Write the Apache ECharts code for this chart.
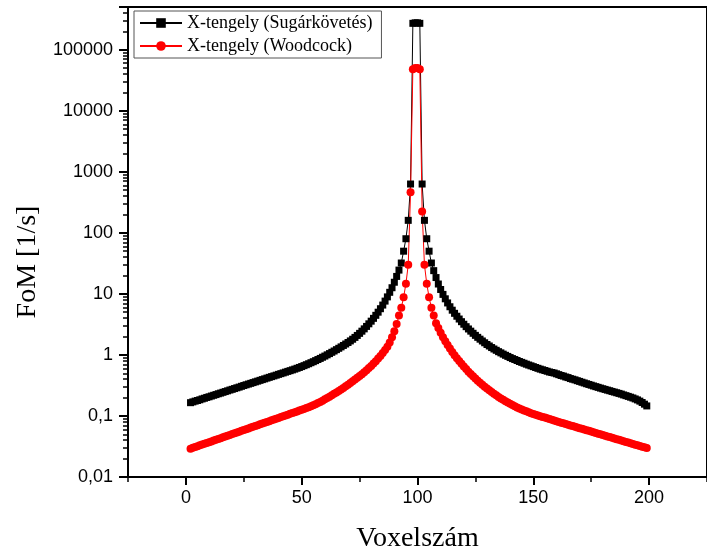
<!DOCTYPE html>
<html><head><meta charset="utf-8">
<script src="https://cdn.jsdelivr.net/npm/echarts@6/dist/echarts.min.js"></script>
<style>html,body{margin:0;padding:0;background:#fff}#c{width:707px;height:558px}</style>
</head><body><div id="c"></div>
<script>
const voxel = [2,3,4,5,6,7,8,9,10,11,12,13,14,15,16,17,18,19,20,21,22,23,24,25,26,27,28,29,30,31,32,33,34,35,36,37,38,39,40,41,42,43,44,45,46,47,48,49,50,51,52,53,54,55,56,57,58,59,60,61,62,63,64,65,66,67,68,69,70,71,72,73,74,75,76,77,78,79,80,81,82,83,84,85,86,87,88,89,90,91,92,93,94,95,96,97,98,99,100,101,102,103,104,105,106,107,108,109,110,111,112,113,114,115,116,117,118,119,120,121,122,123,124,125,126,127,128,129,130,131,132,133,134,135,136,137,138,139,140,141,142,143,144,145,146,147,148,149,150,151,152,153,154,155,156,157,158,159,160,161,162,163,164,165,166,167,168,169,170,171,172,173,174,175,176,177,178,179,180,181,182,183,184,185,186,187,188,189,190,191,192,193,194,195,196,197,198,199];

const sugarkovetes = [
0.165,0.170,0.175,0.179,0.184,0.190,0.195,0.201,0.206,0.212,
0.218,0.224,0.231,0.237,0.244,0.251,0.258,0.266,0.273,0.281,
0.289,0.297,0.306,0.315,0.324,0.333,0.342,0.352,0.362,0.372,
0.383,0.394,0.405,0.417,0.429,0.441,0.453,0.466,0.480,0.493,
0.507,0.522,0.537,0.552,0.568,0.585,0.604,0.623,0.644,0.667,
0.691,0.717,0.745,0.774,0.806,0.840,0.876,0.916,0.957,1.003,
1.051,1.103,1.158,1.219,1.283,1.353,1.428,1.509,1.596,1.695,
1.806,1.935,2.084,2.254,2.447,2.670,2.928,3.23,3.57,3.97,
4.45,5.01,5.71,6.55,7.61,8.92,10.6,12.6,15.5,19.3,
24.5,32,50,80,160,630,
270000,275000,275000,270000,
630,160,80,50,32,24,18.5,14.5,11.8,9.8,
8.3,7.1,6.15,5.4,4.8,4.3,3.87,3.5,3.18,2.9,
2.66,2.45,2.26,2.09,1.94,1.81,1.69,1.58,1.48,1.40,
1.32,1.25,1.19,1.13,1.08,1.03,0.985,0.945,0.905,0.87,
0.84,0.81,0.78,0.755,0.73,0.705,0.683,0.662,0.642,0.622,
0.603,0.585,0.57,0.555,0.54,0.525,0.515,0.505,0.49,0.475,
0.46,0.45,0.435,0.425,0.41,0.40,0.39,0.378,0.368,0.357,
0.347,0.337,0.328,0.319,0.31,0.302,0.294,0.286,0.279,0.272,
0.265,0.259,0.252,0.246,0.24,0.234,0.228,0.221,0.215,0.209,
0.203,0.197,0.19,0.183,0.175,0.166,0.156,0.146];

const woodcock = [
0.0290,0.0300,0.0310,0.0320,0.0330,0.0340,0.0350,0.0361,0.0372,0.0383,
0.0395,0.0407,0.0420,0.0433,0.0446,0.0460,0.0475,0.0489,0.0505,0.0520,
0.0536,0.0553,0.0570,0.0588,0.0606,0.0625,0.0644,0.0664,0.0685,0.0706,
0.0728,0.0750,0.0774,0.0798,0.0822,0.0848,0.0874,0.0901,0.0929,0.0958,
0.0988,0.1019,0.1050,0.1083,0.1117,0.1152,0.1188,0.1225,0.1265,0.1305,
0.1350,0.1395,0.1445,0.150,0.156,0.163,0.170,0.178,0.187,0.197,
0.207,0.218,0.230,0.243,0.257,0.272,0.288,0.306,0.325,0.346,
0.369,0.394,0.421,0.451,0.484,0.52,0.56,0.61,0.66,0.72,
0.79,0.87,0.96,1.07,1.20,1.36,1.60,1.95,2.45,3.2,
4.4,5.9,8.8,14.6,30,460,
48000,50000,50000,48000,
224,30,14.6,8.8,5.9,4.4,3.3,2.75,2.3,1.95,
1.68,1.45,1.27,1.12,0.99,0.885,0.795,0.715,0.645,0.585,
0.53,0.485,0.445,0.41,0.378,0.35,0.325,0.302,0.282,0.264,
0.247,0.232,0.218,0.205,0.194,0.184,0.174,0.166,0.158,0.151,
0.144,0.138,0.132,0.127,0.123,0.119,0.115,0.111,0.108,0.105,
0.102,0.099,0.0965,0.094,0.0915,0.089,0.0865,0.0842,0.0818,0.0797,
0.0776,0.0756,0.0736,0.0718,0.070,0.0682,0.0665,0.0647,0.063,0.0615,
0.060,0.0585,0.057,0.0555,0.054,0.0527,0.0513,0.050,0.0487,0.0474,
0.0462,0.045,0.0439,0.0428,0.0417,0.0406,0.0396,0.0386,0.0376,0.0366,
0.0357,0.0348,0.0339,0.033,0.0322,0.0314,0.0306,0.0298];

const seriesNames = ['X-tengely (Sugárkövetés)', 'X-tengely (Woodcock)'];
const xMajorTicks = [0, 50, 100, 150, 200];
const xMinorTicks = [-25, 25, 75, 125, 175, 225];
const yMajorTicks = [0.01, 0.1, 1, 10, 100, 1000, 10000, 100000];
const yTickLabels = ['0,01', '0,1', '1', '10', '100', '1000', '10000', '100000'];
const yMin = 0.01, yMax = 500000;

const yMinorLog = [];
yMajorTicks.forEach(function (t) {
  for (let k = 2; k <= 9; k++) {
    const v = t * k;
    if (v <= yMax * 1.0001) yMinorLog.push(Math.log10(v));
  }
});

const serif = 'Liberation Serif, Times New Roman, serif';
const sans = 'Liberation Sans, Arial, sans-serif';

const chart = echarts.init(document.getElementById('c'), null, {renderer: 'canvas'});
chart.setOption({
  animation: false,
  backgroundColor: '#fff',
  grid: {left: 128, top: 7, right: -7, bottom: 80, show: true, borderColor: '#000', borderWidth: 2, containLabel: false},
  legend: {
    data: seriesNames, orient: 'vertical', left: 134, top: 11,
    itemWidth: 42, itemHeight: 12, itemGap: 5,
    padding: [3, 9, 3, 5], borderColor: '#555', borderWidth: 1,
    textStyle: {fontFamily: serif, fontSize: 18, color: '#000'}
  },
  xAxis: [{
    type: 'value', min: -25, max: 225, interval: 25, position: 'bottom',
    axisLine: {onZero: false, lineStyle: {color: '#000', width: 2}},
    axisTick: {customValues: xMajorTicks, length: 8, lineStyle: {color: '#000', width: 2}},
    axisLabel: {customValues: xMajorTicks, fontFamily: sans, fontSize: 18, color: '#000', margin: 12,
      formatter: function (v) { return xMajorTicks.indexOf(v) >= 0 ? String(v) : ''; }},
    splitLine: {show: false},
    name: 'Voxelszám', nameLocation: 'middle', nameGap: 48,
    nameTextStyle: {fontFamily: serif, fontSize: 28, color: '#000'}
  }, {
    type: 'value', min: -25, max: 225, interval: 25, position: 'bottom', gridIndex: 0,
    axisLine: {show: false, onZero: false},
    axisTick: {customValues: xMinorTicks, length: 5, lineStyle: {color: '#000', width: 1.5}},
    axisLabel: {show: false}, splitLine: {show: false}
  }],
  yAxis: [{
    type: 'log', logBase: 10, min: yMin, max: yMax, position: 'left',
    axisLine: {show: true, onZero: false, lineStyle: {color: '#000', width: 2}},
    axisTick: {show: true, length: 9, lineStyle: {color: '#000', width: 2}},
    axisLabel: {fontFamily: sans, fontSize: 18, color: '#000', margin: 15,
      formatter: function (v) {
        const i = yMajorTicks.findIndex(function (t) { return Math.abs(Math.log10(t) - Math.log10(v)) < 1e-6; });
        return i >= 0 ? yTickLabels[i] : '';
      }},
    splitLine: {show: false}, minorTick: {show: false},
    name: 'FoM [1/s]', nameLocation: 'middle', nameGap: 86, nameRotate: 90,
    nameTextStyle: {fontFamily: serif, fontSize: 28, color: '#000', padding: [0, 40, 0, 0]}
  }, {
    type: 'value', min: -2, max: Math.log10(yMax), position: 'left', gridIndex: 0,
    axisLine: {show: false, onZero: false},
    axisTick: {show: true, customValues: yMinorLog, length: 5, lineStyle: {color: '#000', width: 1.5}},
    axisLabel: {show: false}, splitLine: {show: false}
  }],
  series: [{
    name: seriesNames[0], type: 'line', xAxisIndex: 0, yAxisIndex: 0,
    data: voxel.map(function (x, i) { return [x, sugarkovetes[i]]; }),
    symbol: 'rect', symbolSize: 7,
    itemStyle: {color: '#000'}, lineStyle: {color: '#000', width: 1}
  }, {
    name: seriesNames[1], type: 'line', xAxisIndex: 0, yAxisIndex: 0,
    data: voxel.map(function (x, i) { return [x, woodcock[i]]; }),
    symbol: 'circle', symbolSize: 8,
    itemStyle: {color: '#ff0000'}, lineStyle: {color: '#ff0000', width: 1}
  }]
});
</script></body></html>
